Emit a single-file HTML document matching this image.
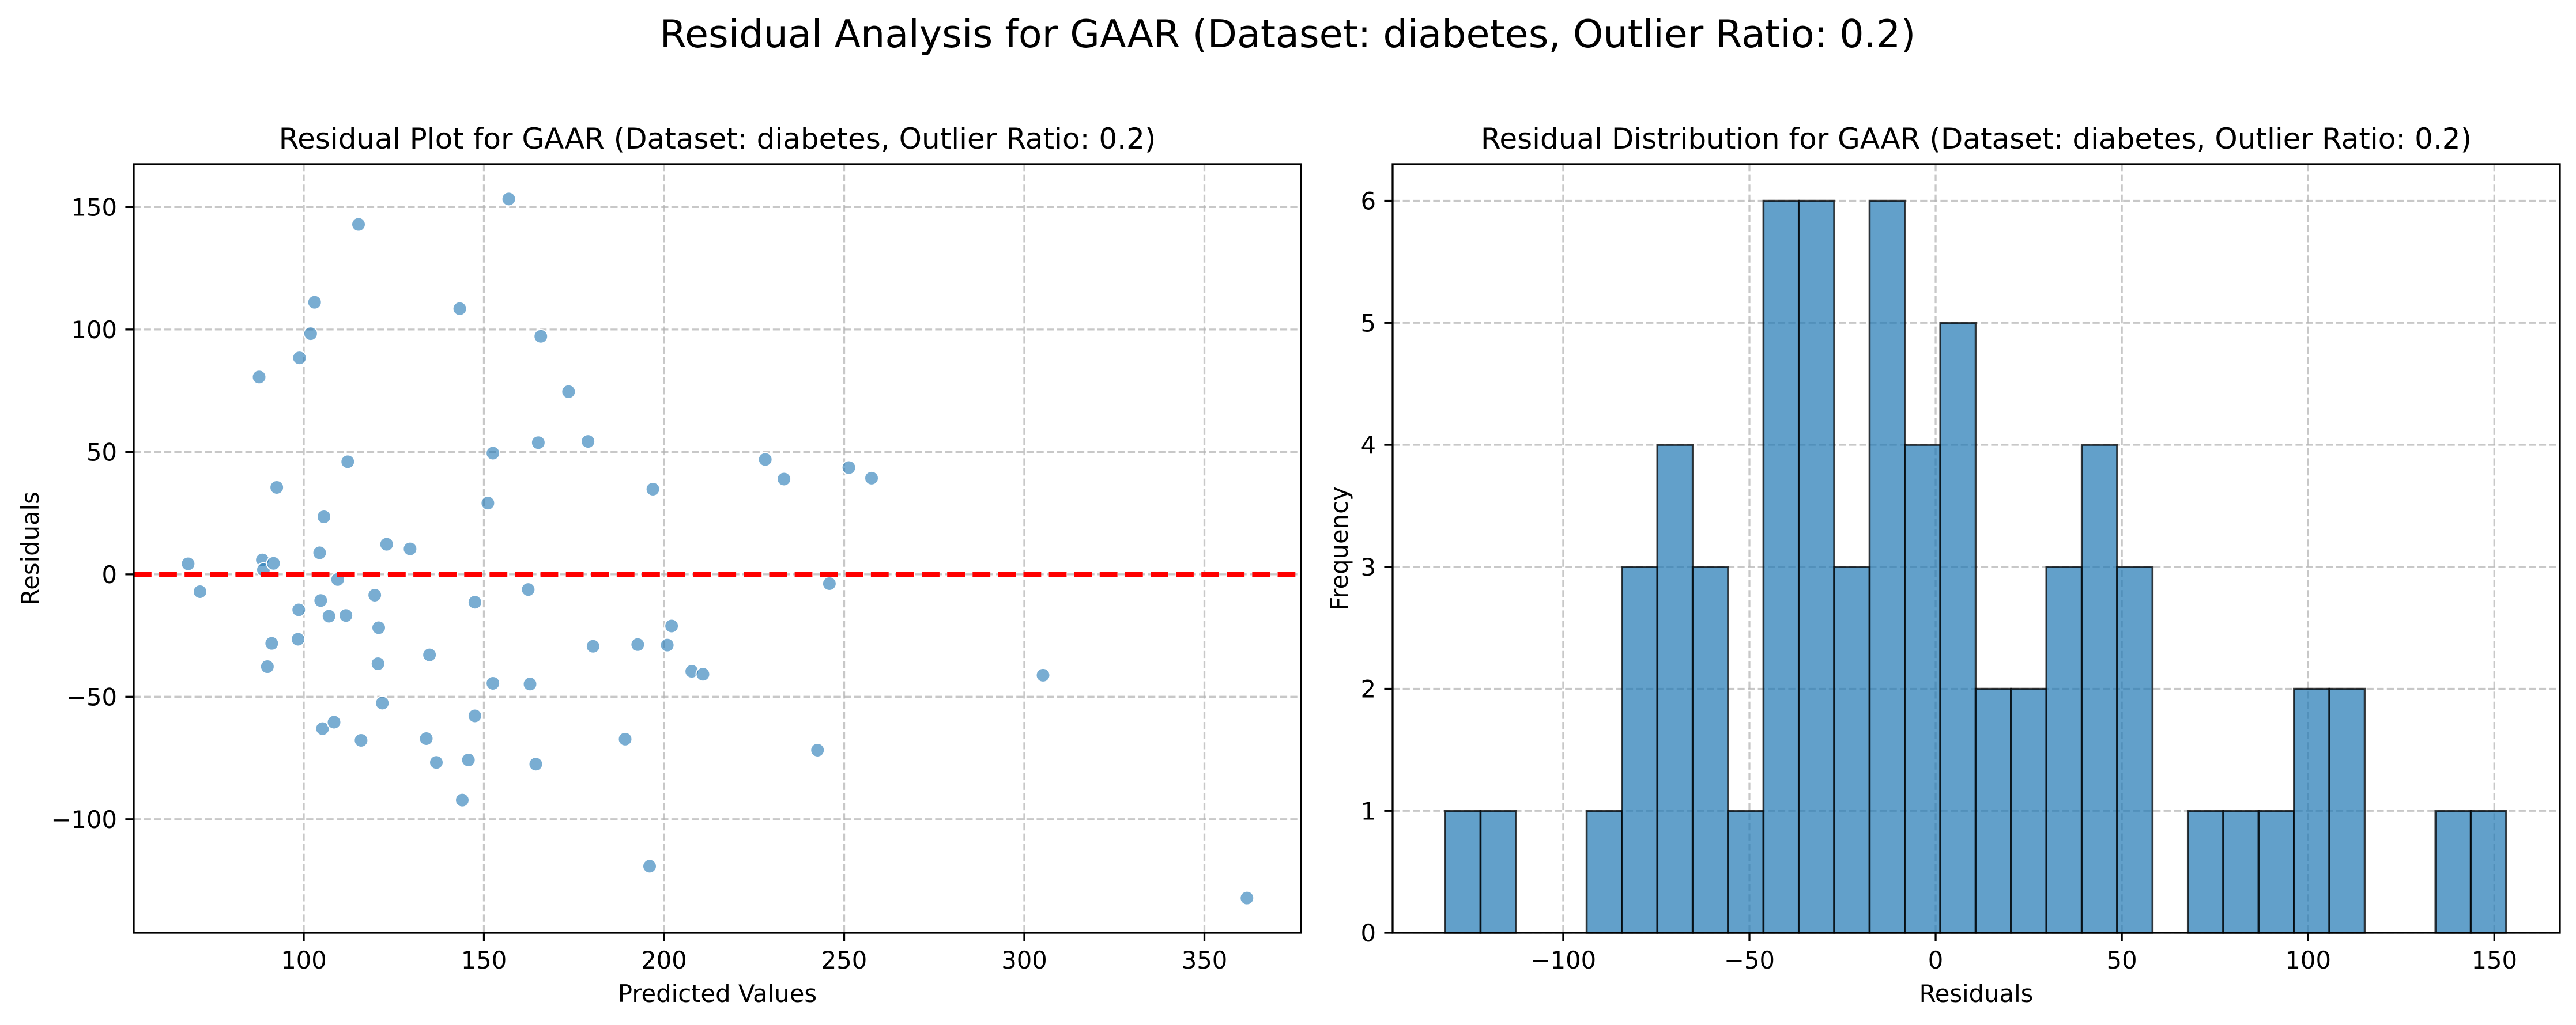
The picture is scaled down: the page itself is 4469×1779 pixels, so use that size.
<!DOCTYPE html>
<html><head><meta charset="utf-8"><title>Residual Analysis for GAAR</title>
<style>
html,body{margin:0;padding:0;background:#fff;}
svg{display:block;font-family:"DejaVu Sans","Liberation Sans",sans-serif;}
</style></head>
<body>
<svg id="fig" width="4469" height="1779" viewBox="0 0 4469 1779" xmlns="http://www.w3.org/2000/svg">
<rect width="4469" height="1779" fill="#fff"/>
<text x="2234" y="82" font-size="66.7" text-anchor="middle">Residual Analysis for GAAR (Dataset: diabetes, Outlier Ratio: 0.2)</text>
<g id="left"></g>
<g id="right"></g>
</svg>
<script>
// ---- scatter data ----
const predicted = [67.9,71.2,87.6,88.5,88.8,91.6,89.9,91.1,92.5,98.6,98.4,98.8,101.9,103.0,104.4,104.7,105.2,105.6,107.0,108.4,109.4,111.7,112.2,115.2,115.9,119.7,120.6,120.8,121.8,123.0,129.5,134.0,134.9,136.8,143.3,144.0,145.7,147.5,147.5,151.1,152.5,152.5,156.9,162.3,162.8,164.4,165.1,165.8,173.5,178.9,180.3,189.2,192.7,196.0,196.9,200.9,202.1,207.7,210.8,228.1,233.3,242.6,245.9,251.3,257.6,305.2,361.8];
const residuals = [4.3,-7.1,80.6,5.9,1.9,4.5,-37.7,-28.2,35.5,-14.5,-26.5,88.4,98.3,111.1,8.8,-10.7,-63.0,23.5,-17.1,-60.4,-2.1,-16.8,46.0,142.9,-67.8,-8.5,-36.5,-21.8,-52.6,12.3,10.4,-67.1,-32.9,-76.8,108.5,-92.2,-75.8,-57.8,-11.4,29.1,49.5,-44.5,153.3,-6.2,-44.8,-77.5,53.8,97.2,74.6,54.3,-29.4,-67.3,-28.7,-119.2,34.8,-28.9,-21.1,-39.6,-40.8,46.9,38.9,-71.8,-3.8,43.6,39.3,-41.2,-132.2];
const scatterXTicks = [100,150,200,250,300,350];
const scatterYTicks = [-100,-50,0,50,100,150];
// ---- histogram data ----
const binCounts = [1,1,0,0,1,3,4,3,1,6,6,3,6,4,5,2,2,3,4,3,0,1,1,1,2,2,0,0,1,1];
const binRange = [-131.7,153.2];
const histXTicks = [-100,-50,0,50,100,150];
const histYTicks = [0,1,2,3,4,5,6];

const NS="http://www.w3.org/2000/svg";
function mk(parent,tag,attrs,text){const e=document.createElementNS(NS,tag);for(const k in attrs)e.setAttribute(k,attrs[k]);if(text!==undefined)e.textContent=text;parent.appendChild(e);return e;}
function fmt(v){return v<0?"\u2212"+Math.abs(v):String(v);}

function axes(g,L,R,T,B,xd,yd,xt,yt,title,xlabel,ylabel,ylabX){
  const sx=v=>L+(v-xd[0])/(xd[1]-xd[0])*(R-L);
  const sy=v=>B-(v-yd[0])/(yd[1]-yd[0])*(B-T);
  const grid=mk(g,"g",{});
  
  
  xt.forEach(v=>{const l=mk(grid,"line",{x1:sx(v),x2:sx(v),y1:T,y2:B,stroke:"#b0b0b0","stroke-opacity":0.7,"stroke-width":3.3,"stroke-dasharray":"12.3 5.3"});
    
    });
  yt.forEach(v=>{const l=mk(grid,"line",{x1:L,x2:R,y1:sy(v),y2:sy(v),stroke:"#b0b0b0","stroke-opacity":0.7,"stroke-width":3.3,"stroke-dasharray":"12.3 5.3"});
    
    });
  const ax=mk(g,"g",{});
  
  
  xt.forEach(v=>{mk(ax,"line",{x1:sx(v),x2:sx(v),y1:B,y2:B+14.6,stroke:"#000","stroke-width":3.3});
    const t=mk(ax,"text",{x:sx(v),y:1681,"font-size":41.7,"text-anchor":"middle"},fmt(v));
    
    });
  yt.forEach(v=>{mk(ax,"line",{x1:L-14.6,x2:L,y1:sy(v),y2:sy(v),stroke:"#000","stroke-width":3.3});
    const t=mk(ax,"text",{x:L-29,y:sy(v)+15,"font-size":41.7,"text-anchor":"end"},fmt(v));
    
    });
  const tt=mk(g,"text",{x:(L+R)/2,y:258,"font-size":50,"text-anchor":"middle"},title);
  
  
  const xl=mk(g,"text",{x:(L+R)/2,y:1739,"font-size":41.7,"text-anchor":"middle"},xlabel);
  
  
  const yl=mk(g,"text",{x:0,y:0,"font-size":41.7,"text-anchor":"middle",transform:`translate(${ylabX+15},${(T+B)/2}) rotate(-90)`},ylabel);
  
  
  return {sx,sy,frame:()=>{const r=mk(g,"rect",{x:L,y:T,width:R-L,height:B-T,fill:"none",stroke:"#000","stroke-width":3.3});
    
    }};
}

// Left scatter
const gl=document.getElementById("left");
const A=axes(gl,232,2257,285,1619,[52.8,376.8],[-146.4,167.5],scatterXTicks,scatterYTicks,
 "Residual Plot for GAAR (Dataset: diabetes, Outlier Ratio: 0.2)","Predicted Values","Residuals",52);
const pts=mk(gl,"g",{});


predicted.forEach((p,i)=>{const c=mk(pts,"circle",{cx:A.sx(p),cy:A.sy(residuals[i]),r:12,fill:"#1f77b4","fill-opacity":0.6,stroke:"#fff","stroke-width":2});
  
  });
const zl=mk(gl,"line",{x1:232,x2:2257,y1:A.sy(0),y2:A.sy(0),stroke:"#ff0000","stroke-width":8.3,"stroke-dasharray":"30.8 13.3"});


A.frame();

// Right histogram
const gr=document.getElementById("right");
const H=axes(gr,2416,4441,285,1619,[-145.8,167.6],[0,6.3],histXTicks,histYTicks,
 "Residual Distribution for GAAR (Dataset: diabetes, Outlier Ratio: 0.2)","Residuals","Frequency",2323);
const bars=mk(gr,"g",{});


const bw=(binRange[1]-binRange[0])/binCounts.length;
binCounts.forEach((c,i)=>{const x0=H.sx(binRange[0]+i*bw),x1=H.sx(binRange[0]+(i+1)*bw);
  const b=mk(bars,"rect",{x:x0,y:H.sy(c),width:x1-x0,height:H.sy(0)-H.sy(c),fill:"#1f77b4","fill-opacity":0.7,stroke:"#000","stroke-opacity":0.75,"stroke-width":3.5});
  
  });
H.frame();
</script>
</body></html>
